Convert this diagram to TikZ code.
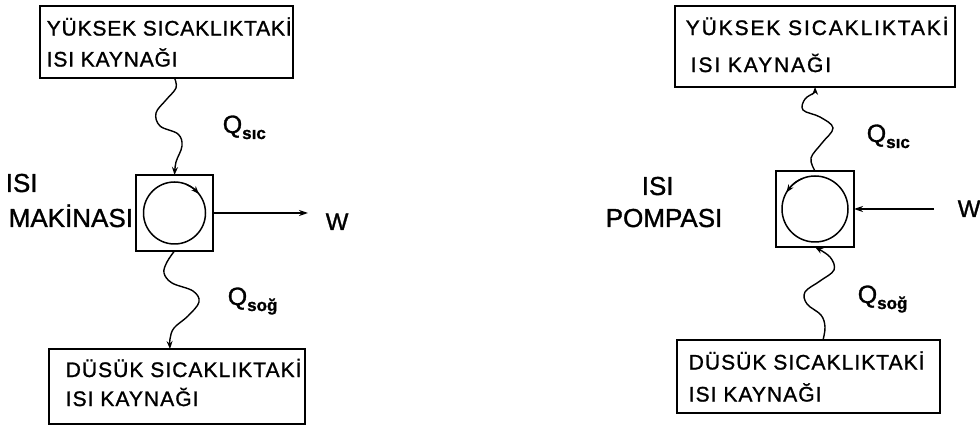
\documentclass[tikz,border=0pt]{standalone}
\usepackage{fontspec}
\setmainfont[FakeBold=1.2]{Liberation Sans}
\usetikzlibrary{arrows.meta,bending}
\begin{document}
\begin{tikzpicture}[x=1pt,y=-1pt, line width=1.5pt,
  srcbox/.style={draw, inner sep=0pt, outer sep=0pt},
  srctext/.style={anchor=west, align=left, inner sep=0pt,
    font=\fontsize{21}{31}\selectfont\addfontfeature{LetterSpace=4}},
  dev/.style={draw, minimum width=77pt, minimum height=76pt, inner sep=0pt, outer sep=0pt},
  cyc/.style={draw, circle, inner sep=0pt, outer sep=0pt},
  lbl/.style={anchor=base west, inner sep=0pt, font=\fontsize{26}{28}\selectfont},
  wlbl/.style={anchor=base west, inner sep=0pt, font=\fontsize{24}{26}\selectfont},
  qlbl/.style={anchor=base west, inner sep=0pt, font=\fontsize{25}{26}\selectfont},
  heat/.style={-{Stealth[length=8pt,width=6pt]}, line width=1.4pt},
  work/.style={-{Stealth[length=9pt,width=6pt]}, line width=1.4pt},
  turn/.style={-{Stealth[length=8pt,width=6pt]}, line width=1.4pt},
]
\newcommand{\qsubtext}[1]{{\fontsize{17}{18}\selectfont\bfseries\raisebox{-6pt}{#1}}}
\useasboundingbox (0,0) rectangle (980,427);

% ---------------- left: heat engine ----------------
\node[srcbox, minimum width=253pt, minimum height=72pt, anchor=north west] (hot1) at (40,6) {};
\node[srctext] (hot1t) at ([xshift=6pt]hot1.west) {YÜKSEK SICAKLIKTAKİ\\ISI KAYNAĞI};
\node[srcbox, minimum width=256pt, minimum height=75pt, anchor=north west] (cold1) at (49,349) {};
\node[srctext, font=\fontsize{21}{29}\selectfont\addfontfeature{LetterSpace=5}] (cold1t) at ([xshift=16pt,yshift=4pt]cold1.west) {DÜSÜK SICAKLIKTAKİ\\ISI KAYNAĞI};
\node[dev] (eng1) at (174.5,213) {};
\node[cyc, minimum size=62pt] (cyc1) at (eng1.center) {};
\draw[turn] (cyc1.68) arc[start angle=68, end angle=38, radius=31pt];

\node[lbl] (isi1) at (5,192) {ISI};
\node[lbl] (mak1) at (8,227) {MAKİNASI};
\node[wlbl] (w1) at (325,230) {W};
\draw[work] (eng1.east) -- ([xshift=-17pt]eng1.east -| w1.west);

\coordinate (h1a) at (eng1.north |- hot1.south);
\draw[heat] plot[smooth, tension=0.6] coordinates {(h1a) (176,88) (166,100) (156,113) (160,126) (178,134) (182,146) (176,162) (eng1.north)};
\coordinate (c1a) at ([xshift=-7pt]cold1.north);
\draw[heat] plot[smooth, tension=0.6] coordinates {(eng1.south) (167,262) (164,273) (172,283) (193,291) (199,302) (188,316) (174,328) (170,339) (c1a)};

\node[qlbl] (q1) at (222,133) {Q\qsubtext{sıc}};
\node[qlbl] (q2) at (227,305) {Q\qsubtext{soğ}};

% ---------------- right: heat pump ----------------
\node[srcbox, minimum width=280pt, minimum height=81pt, anchor=north west] (hot2) at (675,6) {};
\node[srctext, font=\fontsize{21}{37}\selectfont\addfontfeature{LetterSpace=9}] (hot2t) at ([xshift=10pt,yshift=2pt]hot2.west) {YÜKSEK SICAKLIKTAKİ\\\hspace*{5pt}ISI KAYNAĞI};
\node[srcbox, minimum width=263pt, minimum height=73pt, anchor=north west] (cold2) at (677,340) {};
\node[srctext, font=\fontsize{21}{32}\selectfont\addfontfeature{LetterSpace=5}] (cold2t) at ([xshift=11pt]cold2.west) {DÜSÜK SICAKLIKTAKİ\\ISI KAYNAĞI};
\node[dev, minimum width=78pt] (eng2) at (815,209) {};
\node[cyc, minimum size=66pt] (cyc2) at (eng2.center) {};
\draw[turn] (cyc2.112) arc[start angle=112, end angle=150, radius=33pt];

\node[lbl] (isi2) at (641,195) {ISI};
\node[lbl] (pom2) at (605,227) {POMPASI};
\node[wlbl] (w2) at (957,217) {W};
\draw[work] ([xshift=-23pt]eng2.east -| w2.west) -- (eng2.east);

\draw[heat] plot[smooth, tension=0.6] coordinates {(eng2.north) (811,158) (822,143) (833,128) (820,117) (803,110) (805,99) (815,92) (hot2.south)};
\coordinate (c2a) at ([xshift=14.5pt]cold2.north);
\draw[heat] plot[smooth, tension=0.6] coordinates {(c2a) (825,327) (821,315) (807,304) (805,292) (820,281) (834,270) (830,257) (eng2.south)};

\node[qlbl] (q3) at (866,142) {Q\qsubtext{sıc}};
\node[qlbl] (q4) at (857,303) {Q\qsubtext{soğ}};
\end{tikzpicture}
\end{document}
